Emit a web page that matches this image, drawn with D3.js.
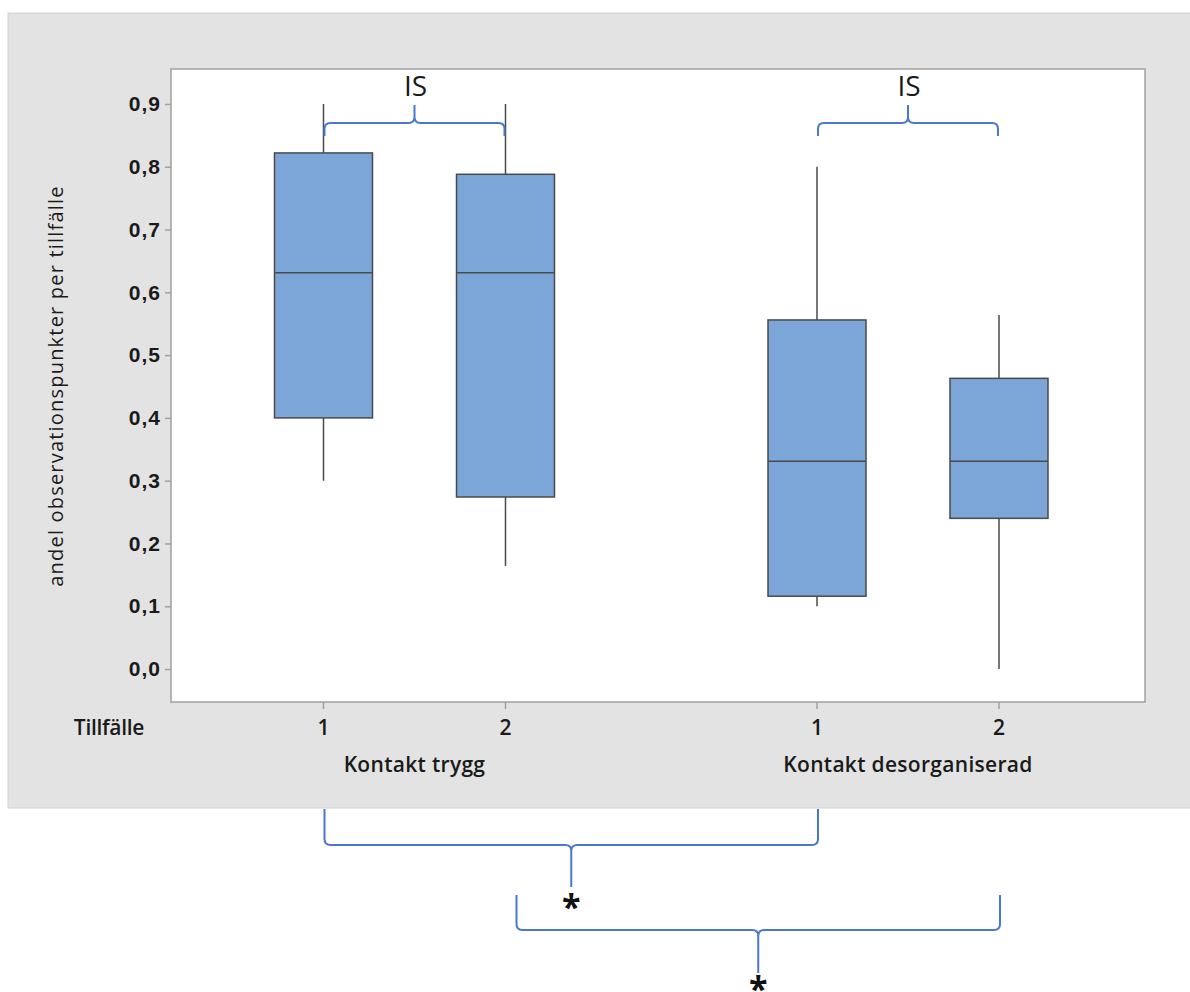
<!DOCTYPE html>
<html>
<head>
<meta charset="utf-8">
<script src="https://cdn.jsdelivr.net/npm/d3@7"></script>
<style>
  body { margin: 0; background: #fff; }
  svg { display: block; font-family: "Open Sans", "Noto Sans", sans-serif; }
</style>
</head>
<body>
<div id="chart"></div>
<script>
// Data
const groups = ["Kontakt trygg", "Kontakt desorganiserad"];
const occasions = ["1", "2"];
const yTicks = [0, 0.1, 0.2, 0.3, 0.4, 0.5, 0.6, 0.7, 0.8, 0.9];
const boxGroup = ["Kontakt trygg", "Kontakt trygg", "Kontakt desorganiserad", "Kontakt desorganiserad"];
const boxOccasion = ["1", "2", "1", "2"];
const mins = [0.30, 0.164, 0.10, 0.0];
const q1s = [0.40, 0.274, 0.116, 0.24];
const medians = [0.631, 0.631, 0.331, 0.331];
const q3s = [0.822, 0.788, 0.556, 0.463];
const maxs = [0.90, 0.90, 0.80, 0.564];
// significance brackets: which boxes they join and their label
const topBrackets = [
  {a: ["Kontakt trygg", "1"], b: ["Kontakt trygg", "2"], label: "IS"},
  {a: ["Kontakt desorganiserad", "1"], b: ["Kontakt desorganiserad", "2"], label: "IS"}
];
const bottomBrackets = [
  {a: ["Kontakt trygg", "1"], b: ["Kontakt desorganiserad", "1"], label: "*"},
  {a: ["Kontakt trygg", "2"], b: ["Kontakt desorganiserad", "2"], label: "*"}
];

const width = 1190, height = 992;
const panel = {x: 8, y: 13, w: 1190, h: 795};
const plot = {left: 171, right: 1145, top: 69, bottom: 702};
const textColor = "#1a1a1a";

const svg = d3.select("#chart").append("svg")
  .attr("width", width)
  .attr("height", height);

// grey outer panel
svg.append("rect")
  .attr("x", panel.x).attr("y", panel.y)
  .attr("width", panel.w).attr("height", panel.h)
  .attr("fill", "#e3e3e3")
  .attr("stroke", "#d2d2d2");

// white plot area
svg.append("rect")
  .attr("x", plot.left).attr("y", plot.top)
  .attr("width", plot.right - plot.left).attr("height", plot.bottom - plot.top)
  .attr("fill", "#fff")
  .attr("stroke", "#a0a0a0")
  .attr("stroke-width", 1.5);

// scales
const y = d3.scaleLinear()
  .domain([-0.0525, 0.9557])
  .range([plot.bottom, plot.top]);

const x0 = d3.scalePoint()
  .domain(groups)
  .range([plot.left, plot.right + 6.5])
  .padding(0.4934);

const x1 = d3.scalePoint()
  .domain(occasions)
  .range([-91, 91]);

const xPos = (g, o) => x0(g) + x1(o);
const boxW = 98;

// y axis
const yAxis = svg.append("g")
  .attr("transform", `translate(${plot.left},0)`)
  .call(d3.axisLeft(y).tickValues(yTicks).tickSize(6).tickPadding(4)
    .tickFormat(d => d3.format(".1f")(d).replace(".", ",")));
yAxis.select(".domain").remove();
yAxis.selectAll("line").attr("stroke", "#a0a0a0").attr("stroke-width", 1.5);
yAxis.selectAll("text")
  .attr("fill", textColor)
  .style("font-size", "21px")
  .style("font-weight", "600")
  .style("letter-spacing", "1px");

// x axis ticks (one per box)
const xTickG = svg.append("g");
boxGroup.forEach((g, i) => {
  const cx = xPos(g, boxOccasion[i]);
  xTickG.append("line")
    .attr("x1", cx).attr("x2", cx)
    .attr("y1", plot.bottom).attr("y2", plot.bottom + 7)
    .attr("stroke", "#a0a0a0").attr("stroke-width", 1.5);
  xTickG.append("text")
    .attr("x", cx).attr("y", 735)
    .attr("text-anchor", "middle")
    .attr("fill", textColor)
    .style("font-size", "21px")
    .style("font-weight", "600")
    .text(boxOccasion[i]);
});

svg.append("text")
  .attr("x", 109).attr("y", 735)
  .attr("text-anchor", "middle")
  .attr("fill", textColor)
  .style("font-size", "21px")
  .style("font-weight", "600")
  .style("letter-spacing", "-0.3px")
  .text("Tillfälle");

groups.forEach(g => {
  svg.append("text")
    .attr("x", x0(g)).attr("y", 772)
    .attr("text-anchor", "middle")
    .attr("fill", textColor)
    .style("font-size", "21px")
    .style("font-weight", "600")
    .style("letter-spacing", "0.3px")
    .text(g);
});

// y axis label
svg.append("text")
  .attr("transform", "rotate(-90)")
  .attr("x", -386).attr("y", 63)
  .attr("text-anchor", "middle")
  .attr("fill", textColor)
  .style("font-size", "20px")
  .style("letter-spacing", "1.2px")
  .text("andel observationspunkter per tillfälle");

// boxes
const boxes = svg.append("g");
boxGroup.forEach((g, i) => {
  const cx = xPos(g, boxOccasion[i]);
  boxes.append("line")
    .attr("x1", cx).attr("x2", cx)
    .attr("y1", y(mins[i])).attr("y2", y(maxs[i]))
    .attr("stroke", "#4a4a4a").attr("stroke-width", 1.5);
  boxes.append("rect")
    .attr("x", cx - boxW / 2)
    .attr("y", y(q3s[i]))
    .attr("width", boxW)
    .attr("height", y(q1s[i]) - y(q3s[i]))
    .attr("fill", "#7ca6d8")
    .attr("stroke", "#4a4a4a").attr("stroke-width", 1.5);
  boxes.append("line")
    .attr("x1", cx - boxW / 2).attr("x2", cx + boxW / 2)
    .attr("y1", y(medians[i])).attr("y2", y(medians[i]))
    .attr("stroke", "#4a4a4a").attr("stroke-width", 1.5);
});

// curly bracket: ends at xa and xb from yTip to the bar at yBar, spike in the middle to ySpike
function bracePath(xa, xb, yTip, yBar, ySpike) {
  const xm = (xa + xb) / 2;
  const s = Math.sign(yBar - yTip);
  const r = 6;
  const q = Math.sign(ySpike - yBar);
  return `M${xa},${yTip} L${xa},${yBar - s * r} Q${xa},${yBar} ${xa + r},${yBar}` +
    ` L${xm - r},${yBar} Q${xm},${yBar} ${xm},${yBar + q * r} L${xm},${ySpike}` +
    ` M${xm},${yBar + q * r} Q${xm},${yBar} ${xm + r},${yBar} L${xb - r},${yBar}` +
    ` Q${xb},${yBar} ${xb},${yBar - s * r} L${xb},${yTip}`;
}

const braceColor = "#4a78cc";

topBrackets.forEach(b => {
  const xa = xPos(b.a[0], b.a[1]) + 1, xb = xPos(b.b[0], b.b[1]) - 1;
  svg.append("path")
    .attr("d", bracePath(xa, xb, 136, 123, 105))
    .attr("fill", "none")
    .attr("stroke", braceColor).attr("stroke-width", 2);
  svg.append("text")
    .attr("x", (xa + xb) / 2 + 1).attr("y", 96)
    .attr("text-anchor", "middle")
    .attr("fill", textColor)
    .style("font-size", "28px")
    .text(b.label);
});

const bottomLevels = [
  {tip: 809, bar: 845, spike: 887, star: 919, dxa: 1},
  {tip: 895, bar: 930, spike: 973, star: 1001, dxa: 11}
];
bottomBrackets.forEach((b, i) => {
  const lv = bottomLevels[i];
  const xa = xPos(b.a[0], b.a[1]) + lv.dxa, xb = xPos(b.b[0], b.b[1]) + 1;
  svg.append("path")
    .attr("d", bracePath(xa, xb, lv.tip, lv.bar, lv.spike))
    .attr("fill", "none")
    .attr("stroke", braceColor).attr("stroke-width", 2);
  svg.append("text")
    .attr("x", (xa + xb) / 2).attr("y", lv.star)
    .attr("text-anchor", "middle")
    .attr("fill", "#111")
    .style("font-size", "34px")
    .style("font-weight", "bold")
    .text(b.label);
});
</script>
</body>
</html>
